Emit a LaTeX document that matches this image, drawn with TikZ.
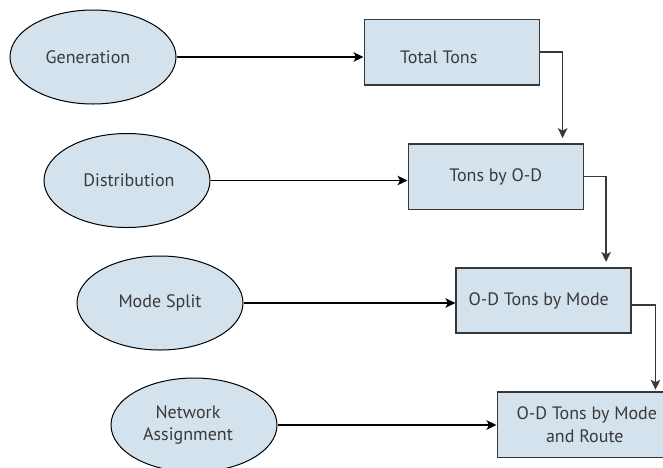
\documentclass[tikz,border=0pt]{standalone}
\usepackage{fontspec}
\setmainfont{PT Sans}
\usetikzlibrary{shapes.geometric,arrows.meta}

\definecolor{stagefill}{HTML}{D4E2EE}
\definecolor{txt}{HTML}{3A3A3A}
\definecolor{boxline}{HTML}{383838}

\tikzset{
  stage/.style={ellipse, draw=black, line width=1pt, fill=stagefill,
    minimum width=166pt, minimum height=94pt, inner sep=0pt,
    text=txt, font=\fontsize{18}{23}\selectfont, align=center},
  outbox/.style={rectangle, draw=boxline, line width=1.6pt, fill=stagefill,
    minimum width=175pt, minimum height=65.5pt, inner sep=0pt,
    text=txt, font=\fontsize{18}{23}\selectfont, align=center},
  boxtext/.style={text=txt, font=\fontsize{18}{23}\selectfont, align=center},
  feed/.style={draw=black, line width=1.3pt,
    -{Stealth[length=10pt,width=9.5pt,inset=2.5pt]}},
  chain/.style={draw=boxline, line width=1.5pt,
    -{Stealth[length=10pt,width=9.5pt,inset=2.5pt]}}
}

\begin{document}
\begin{tikzpicture}[x=1pt,y=-1pt]
  \clip (0,0) rectangle (663,467);
  \fill[white] (0,0) rectangle (663,467);

  % process stages
  \node[stage] (gen)  at (93,57)     {\hspace*{-10pt}Generation};
  \node[stage] (dist) at (127,180.5) {\hspace*{4pt}Distribution};
  \node[stage] (mode) at (160,303)   {Mode Split};
  \node[stage] (net)  at (194,425)   {\hspace*{-12pt}\raisebox{-3pt}{\begin{tabular}{@{}c@{}}Network\\[-1pt]Assignment\end{tabular}}};

  % stage outputs
  \node[outbox] (total) at (451.8,52.2)
    [label={[boxtext, name=totaltxt, xshift=-13pt, yshift=-5pt]center:Total Tons}] {};
  \node[outbox] (tod)  at (495.8,176.7) {Tons by O-D};
  \node[outbox] (odm)  at (543.7,300.5) {\hspace*{-10pt}O-D Tons by Mode};
  \node[outbox] (odmr) at (584.8,424.8) {\hspace*{4pt}O-D Tons by Mode\\and Route};

  % stage -> output
  \draw[feed] (gen.east)  -- (gen.east  -| total.west);
  \draw[feed] (dist.east) -- (dist.east -| tod.west);
  \draw[feed] (mode.east) -- (mode.east -| odm.west);
  \draw[feed] (net.east)  -- (net.east  -| odmr.west);

  % output -> next output
  \draw[chain, shorten >=5pt] (total.east) -- ++(22.5,0) coordinate (k1) -- (k1 |- tod.north);
  \draw[chain, shorten >=5pt] (tod.east)   -- ++(22,0)   coordinate (k2) -- (k2 |- odm.north);
  \draw[chain, shorten >=1.5pt] ([yshift=-4.5pt]odm.east) -- ++(23.5,0) coordinate (k3) -- (k3 |- odmr.north);
\end{tikzpicture}
\end{document}
